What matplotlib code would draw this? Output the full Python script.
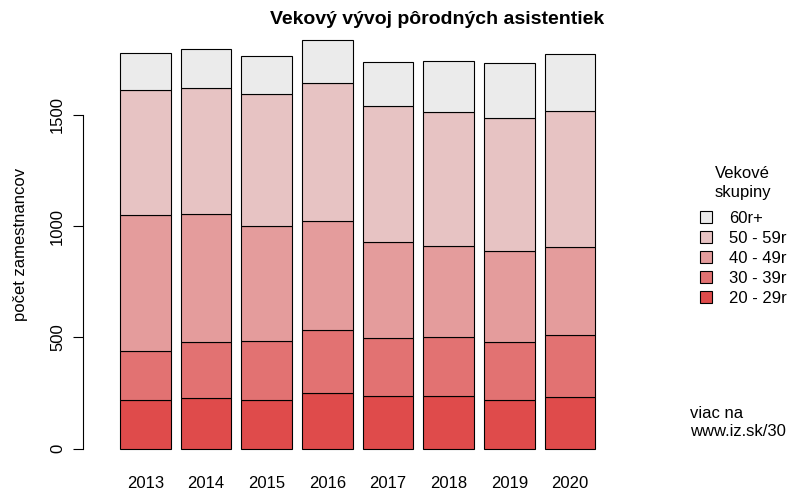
import numpy as np
import matplotlib.pyplot as plt

plt.rcParams['font.family'] = ['Liberation Sans', 'DejaVu Sans']

roky = ['2013', '2014', '2015', '2016', '2017', '2018', '2019', '2020']
skupiny = ['20 - 29r', '30 - 39r', '40 - 49r', '50 - 59r', '60r+']
farby = ['#df4b4b', '#e27272', '#e49c9c', '#e7c3c3', '#ebebeb']

# pocty zamestnancov podla vekovych skupin (odhad z grafu)
v20_29 = [217, 226, 220, 249, 235, 238, 219, 231]
v30_39 = [221, 252, 262, 283, 264, 264, 260, 278]
v40_49 = [611, 575, 518, 491, 428, 407, 409, 396]
v50_59 = [563, 569, 592, 618, 612, 605, 598, 613]
v60 = [165, 173, 171, 193, 198, 229, 248, 256]

data = [v20_29, v30_39, v40_49, v50_59, v60]

fig = plt.figure(figsize=(7.89, 4.91), dpi=100)
# plot region v pixeloch: x 83..615, y 24..465
ax = fig.add_axes([83 / 789, (491 - 465) / 491, (615 - 83) / 789, (465 - 24) / 491])

x = 0.7 + 1.2 * np.arange(len(roky))
spodok = np.zeros(len(roky))
handles = []
for hodnoty, farba, nazov in zip(data, farby, skupiny):
    h = ax.bar(x, hodnoty, width=1.0, bottom=spodok, color=farba,
               edgecolor='black', linewidth=0.8, label=nazov)
    handles.append(h)
    spodok += np.array(hodnoty)

ppu = 475.3 / 9.4
ax.set_xlim(0.2 - 37 / ppu, 9.6 + 19.7 / ppu)
vrch = spodok.max()
ax.set_ylim(-0.04 * vrch, vrch * 1.04)

for s in ['top', 'right', 'bottom']:
    ax.spines[s].set_visible(False)
ax.spines['left'].set_bounds(0, 1500)
ax.spines['left'].set_linewidth(0.8)

ax.set_yticks([0, 500, 1000, 1500])
ax.set_yticklabels(['0', '500', '1000', '1500'], rotation=90, va='center', fontsize=12)
ax.tick_params(axis='y', length=7, width=0.8, pad=6)
ax.set_xticks(x)
ax.set_xticklabels(roky, fontsize=12)
ax.tick_params(axis='x', length=0, pad=8)
ax.set_ylabel('počet zamestnancov', fontsize=12, labelpad=16)

fig.text(437 / 789, 1 - 19 / 491, 'Vekový vývoj pôrodných asistentiek',
         ha='center', va='center', fontsize=14, fontweight='bold')

leg = fig.legend(handles[::-1], skupiny[::-1], loc='upper left',
                 bbox_to_anchor=(688 / 789, 1 - 154 / 491), frameon=False,
                 title='Vekové\nskupiny', fontsize=12, title_fontsize=12,
                 handlelength=0.75, handleheight=0.7, handletextpad=1.0,
                 labelspacing=0.3, borderpad=0.2)
leg.get_title().set_linespacing(1.35)
leg._legend_box.sep = 8

fig.text(690 / 789, 1 - 423 / 491, 'viac na\nwww.iz.sk/30', ha='left', va='center',
         fontsize=12, linespacing=1.25)

fig.savefig('out.png', dpi=100)
